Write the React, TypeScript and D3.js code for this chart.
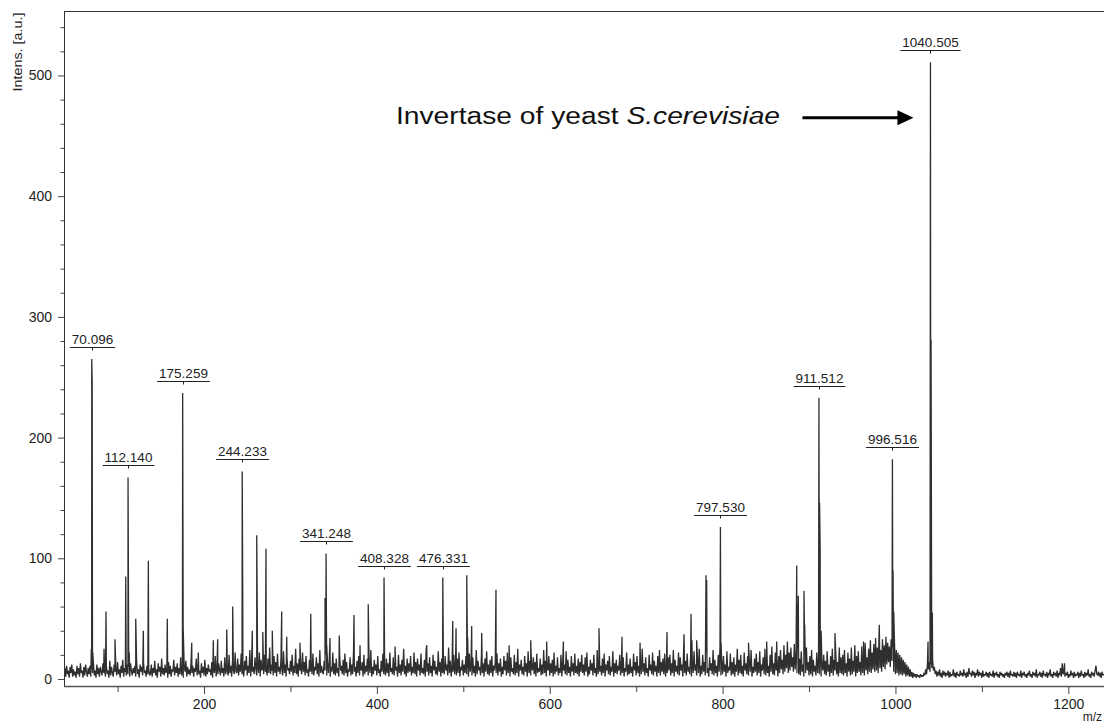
import React, { useRef, useEffect } from 'react';
import * as d3 from 'd3';

// baseline noise, one value per m/z unit, chunks of 100 starting at the m/z in the name
const noise38 = [3,9,2,11,4,7,1,10,5,12,2,8,3,6,1,11,4,9,2,13,5,7,1,10,3,12,6,2,9,4,11,2,8,5,14,3,7,1,12,4,9,2,10,6,3,13,5,8,2,11,4,7,1,15,3,10,5,2,12,6,9,3,14,4,8,1,11,5,16,2,9,6,3,12,4,10,2,13,7,3,9,5,11,2,15,4,8,1,12,6,10,3,14,5,7,2,11,4,9,3];
const noise138 = [4,12,2,9,5,15,3,8,1,13,6,10,2,17,4,9,3,12,5,7,1,14,4,11,2,8,6,16,3,10,5,13,2,9,4,18,3,7,1,12,6,15,2,10,4,8,3,14,5,11,2,9,6,17,3,12,4,7,1,13,5,10,3,16,2,9,4,12,6,8,3,14,1,11,5,19,2,10,4,13,7,3,15,5,9,2,18,4,12,6,3,20,5,11,2,16,7,4,22,6];
const noise238 = [5,17,3,12,6,21,4,9,2,15,7,19,3,11,5,24,2,14,6,10,4,18,8,3,13,5,22,2,16,7,11,4,20,6,9,3,17,5,26,4,12,7,3,19,5,14,2,21,6,10,4,16,8,3,23,5,12,2,18,7,9,4,15,6,20,3,11,5,25,4,13,2,17,7,10,4,22,6,14,3,19,5,8,2,16,6,12,4,21,3,10,7,18,4,13,2,24,5,11,6];
const noise338 = [4,15,7,20,3,12,5,18,2,10,6,22,4,13,3,17,5,9,2,19,7,11,4,16,3,21,5,14,2,8,6,18,3,12,4,23,6,10,2,15,5,19,3,9,7,14,2,20,4,11,6,17,3,13,5,24,2,10,4,16,7,12,3,19,5,8,2,15,6,21,4,11,3,17,5,13,2,22,6,9,4,18,3,14,7,10,2,20,5,12,3,16,6,25,4,11,2,17,5,13];
const noise438 = [6,19,3,10,5,22,4,14,2,17,7,12,3,21,5,9,4,16,2,24,6,13,3,18,5,11,2,20,7,15,4,10,3,23,6,14,2,17,5,9,4,19,7,12,3,26,5,15,2,11,6,20,4,13,3,17,5,22,2,10,7,16,3,12,5,19,4,9,2,21,6,14,3,18,5,11,2,24,4,15,7,10,3,20,5,13,2,17,6,23,4,12,3,16,5,19,2,11,7,14];
const noise538 = [5,21,3,13,6,17,2,10,4,19,7,15,3,22,5,11,2,18,6,9,4,20,3,14,5,25,2,12,7,16,4,10,3,19,6,13,2,23,5,15,3,11,7,18,4,14,2,21,5,9,6,17,3,12,4,24,5,15,2,10,7,19,3,13,5,16,2,22,4,11,6,18,3,9,5,20,2,14,7,12,4,23,3,16,5,10,2,19,6,13,3,21,5,11,4,17,2,14,6,20];
const noise638 = [5,12,3,18,6,22,2,10,4,16,7,13,3,20,5,9,2,24,4,14,6,11,3,17,5,21,2,12,7,15,4,19,3,10,6,23,2,13,5,16,4,11,7,20,3,14,5,18,2,9,6,22,3,12,4,17,5,10,2,21,7,14,3,19,5,11,2,16,4,25,6,13,3,18,5,9,2,20,7,12,4,22,3,15,6,11,2,19,5,24,3,14,6,17,4,21,2,12,5,18];
const noise738 = [7,20,3,13,5,24,2,16,6,11,4,22,3,18,7,12,2,26,5,15,3,21,6,10,4,19,2,14,5,23,7,12,3,17,5,25,2,11,4,20,6,14,3,22,5,9,2,18,7,13,4,24,3,16,5,11,2,20,6,27,3,15,4,19,6,12,2,23,5,10,7,21,3,14,4,18,2,12,6,25,3,16,5,20,4,11,2,22,7,13,4,19,3,15,6,24,2,10,5,17];
const noise838 = [6,21,3,14,5,23,2,12,7,18,4,25,3,16,5,11,2,20,6,27,4,13,3,22,7,15,2,19,5,24,8,16,4,28,6,20,9,31,5,22,7,26,10,18,6,29,8,21,5,25,4,17,3,23,6,12,2,21,5,26,7,14,3,19,4,24,2,16,6,11,3,22,5,18,4,27,2,13,7,20,4,15,3,23,6,12,2,19,5,25,3,16,7,21,4,14,2,26,5,18];
const noise938 = [4,20,3,24,5,13,2,22,6,17,3,26,4,15,6,28,2,19,5,23,6,14,3,27,5,21,3,30,7,18,4,25,6,32,5,22,8,29,6,34,7,26,5,36,9,24,6,33,10,28,8,35,12,30,14,27,10,33,15,26,6,28,4,24,5,22,3,20,4,18,3,16,4,14,2,12,3,10,2,8,2,6,1,5,2,4,1,4,2,3,1,4,2,3,2,5,3,8,4,12];
const noise1038 = [8,14,6,12,9,16,7,10,4,7,2,6,3,8,2,5,1,7,3,6,2,5,3,7,1,6,2,4,3,8,2,5,1,6,3,4,2,7,3,5,2,8,3,5,1,6,2,9,4,5,2,7,3,6,1,5,3,8,2,6,3,5,1,7,2,4,3,6,2,5,1,6,3,4,2,7,1,5,3,6,2,4,1,6,3,5,2,4,1,5,3,6,2,5,1,7,3,4,2,6];
const noise1138 = [2,5,1,6,3,4,2,7,1,5,3,6,2,4,1,5,3,7,2,4,1,6,3,5,2,8,1,4,3,6,2,5,1,7,3,4,2,6,1,5,3,8,2,4,1,6,3,5,2,7,1,5,3,9,2,13,4,6,2,5,3,6,1,4,2,7,3,5,1,6,2,4,3,6,1,5,2,7,3,4,1,6,2,5,3,8,2,4,1,6,3,5,2,7,11,4,3,6,2,5,1,6,3,4];

const noiseChunks: [number, number[]][] = [
  [38, noise38], [138, noise138], [238, noise238], [338, noise338], [438, noise438], [538, noise538],
  [638, noise638], [738, noise738], [838, noise838], [938, noise938], [1038, noise1038], [1138, noise1138],
];

// main peaks: [m/z, intensity]
const peaks: [number, number][] = [
  [69.6, 25], [70.1, 265], [70.6, 247], [71.3, 22],
  [86.6, 56], [97, 33],
  [109.4, 85], [112.1, 167], [112.8, 30], [113.5, 22],
  [121, 50], [129.8, 40], [135.6, 98], [157.5, 50],
  [175.3, 237], [176, 40],
  [226.3, 41], [233.2, 60],
  [244.2, 172], [244.8, 71],
  [261, 119], [271.7, 108], [289.9, 56], [295.7, 35], [323.5, 54],
  [340, 67], [341.2, 104], [342, 28],
  [356.5, 36], [373.5, 53], [390, 62], [408.3, 84], [476.3, 84],
  [487.8, 48], [491.6, 42], [504, 86], [505, 35], [521.3, 38], [537.8, 74],
  [657, 42], [683.6, 35], [735.7, 39], [755.4, 37], [763.5, 54], [764.5, 32],
  [780.8, 86], [781.6, 82], [797.5, 126], [798.2, 30],
  [885.8, 94], [886.6, 62], [887.6, 69], [894.2, 73], [895, 45],
  [911.5, 233], [912.2, 146], [912.9, 107], [914, 40],
  [981.3, 45], [996.5, 182], [997.2, 90], [998, 56],
  [1037.7, 31], [1040.5, 511], [1041.2, 281], [1042.7, 55],
  [1195.6, 13],
];

// small spikes sticking out of the noise band
const minorPeaks: [number, number][] = [
  [84.3, 25], [185.8, 30], [193.4, 22], [210.8, 32], [215.8, 33], [255.9, 40], [268, 39], [279, 40],
  [311, 30], [345.8, 34], [380.5, 28], [421, 27], [457.7, 28], [509.7, 44], [553, 28], [578, 32],
  [596.5, 31], [615.8, 31], [704.5, 30], [770, 32], [830, 30], [851, 31], [862.6, 31], [930, 38], [963, 31],
];

const peakLabels = ['70.096', '112.140', '175.259', '244.233', '341.248', '408.328', '476.331', '797.530', '911.512', '996.516', '1040.505'];

const xTicks = [200, 400, 600, 800, 1000, 1200];
const xMinorTicks = [100, 300, 500, 700, 900, 1100];
const yTicks = [0, 100, 200, 300, 400, 500];
const yMinorTicks = [20, 40, 60, 80, 120, 140, 160, 180, 220, 240, 260, 280, 320, 340, 360, 380, 420, 440, 460, 480, 520, 540];

const FONT = '"Liberation Sans", Arial, sans-serif';

export default function App() {
  const ref = useRef<SVGSVGElement>(null);

  useEffect(() => {
    const svg = d3.select(ref.current);
    svg.selectAll('*').remove();

    const left = 64, right = 1104, top = 11, bottom = 686;
    const x = d3.scaleLinear().domain([38, 1241.3]).range([left, right]);
    const y = d3.scaleLinear().domain([-5.8, 553.4]).range([bottom, top]);

    // merge noise + peaks into one trace
    const points: [number, number][] = [];
    noiseChunks.forEach(([start, vals]) => vals.forEach((v, i) => points.push([start + i, v])));
    peaks.forEach(p => points.push(p));
    minorPeaks.forEach(p => points.push(p));
    points.sort((a, b) => a[0] - b[0]);

    svg.append('defs').append('clipPath').attr('id', 'plotClip')
      .append('rect').attr('x', left).attr('y', top).attr('width', right - left).attr('height', bottom - top);

    svg.append('path')
      .datum(points)
      .attr('fill', 'none')
      .attr('stroke', '#2f2f2f')
      .attr('stroke-width', 1.3)
      .attr('stroke-linejoin', 'bevel')
      .attr('clip-path', 'url(#plotClip)')
      .attr('d', d3.line<[number, number]>().x(d => x(d[0])).y(d => y(d[1])));

    // frame
    svg.append('line').attr('x1', left + 0.5).attr('x2', left + 0.5).attr('y1', top).attr('y2', bottom)
      .attr('stroke', '#333').attr('stroke-width', 1);
    svg.append('line').attr('x1', left).attr('x2', right).attr('y1', top + 0.5).attr('y2', top + 0.5)
      .attr('stroke', '#333').attr('stroke-width', 1);
    svg.append('line').attr('x1', left).attr('x2', right).attr('y1', bottom + 0.5).attr('y2', bottom + 0.5)
      .attr('stroke', '#555').attr('stroke-width', 1.5);

    // x axis
    const xAxis = svg.append('g').attr('transform', `translate(0,${bottom + 1})`)
      .call(d3.axisBottom(x).tickValues(xTicks).tickSize(7).tickSizeOuter(0).tickPadding(5).tickFormat(d3.format('d')));
    xAxis.select('.domain').remove();
    xAxis.selectAll('text').style('font-family', FONT).style('font-size', '14px').attr('fill', '#222');
    xAxis.selectAll('line').attr('stroke', '#444');
    const xMinor = svg.append('g').attr('transform', `translate(0,${bottom + 1})`)
      .call(d3.axisBottom(x).tickValues(xMinorTicks).tickSize(5).tickSizeOuter(0).tickFormat(() => ''));
    xMinor.select('.domain').remove();
    xMinor.selectAll('line').attr('stroke', '#444');

    // y axis
    const yAxis = svg.append('g').attr('transform', `translate(${left},0)`)
      .call(d3.axisLeft(y).tickValues(yTicks).tickSize(6).tickSizeOuter(0).tickPadding(6).tickFormat(d3.format('d')));
    yAxis.select('.domain').remove();
    yAxis.selectAll('text').style('font-family', FONT).style('font-size', '14px').attr('fill', '#222');
    yAxis.selectAll('line').attr('stroke', '#444');
    const yMinor = svg.append('g').attr('transform', `translate(${left},0)`)
      .call(d3.axisLeft(y).tickValues(yMinorTicks).tickSize(3.5).tickSizeOuter(0).tickFormat(() => ''));
    yMinor.select('.domain').remove();
    yMinor.selectAll('line').attr('stroke', '#444');

    svg.append('text')
      .attr('transform', 'translate(21.5,52) rotate(-90)')
      .attr('text-anchor', 'middle')
      .attr('textLength', 79)
      .attr('lengthAdjust', 'spacingAndGlyphs')
      .style('font-family', FONT).style('font-size', '13px').attr('fill', '#222')
      .text('Intens. [a.u.]');

    svg.append('text')
      .attr('x', 1102).attr('y', 721)
      .attr('text-anchor', 'end')
      .style('font-family', FONT).style('font-size', '12px').attr('fill', '#222')
      .text('m/z');

    // peak labels
    peakLabels.forEach(lbl => {
      const mz = +lbl;
      const h = d3.max(peaks.filter(p => Math.abs(p[0] - mz) < 1), p => p[1]) ?? 0;
      const g = svg.append('g').attr('transform', `translate(${Math.round(x(mz)) + 0.5},${Math.round(y(h) - 12) + 0.5})`);
      const t = g.append('text')
        .attr('x', 0).attr('y', -3.5)
        .attr('text-anchor', 'middle')
        .style('font-family', FONT).style('font-size', '13.5px').attr('fill', '#222')
        .text(lbl);
      const w = (t.node() as SVGTextElement).getComputedTextLength() + 4;
      g.append('line').attr('x1', -w / 2).attr('x2', w / 2).attr('y1', 0).attr('y2', 0).attr('stroke', '#222').attr('stroke-width', 1);
      g.append('line').attr('x1', 0).attr('x2', 0).attr('y1', 0).attr('y2', 3).attr('stroke', '#222').attr('stroke-width', 1);
    });

    // annotation
    const ann = svg.append('text')
      .attr('x', 396).attr('y', 123.5)
      .attr('textLength', 384)
      .attr('lengthAdjust', 'spacingAndGlyphs')
      .style('font-family', FONT).style('font-size', '23px').attr('fill', '#111');
    ann.append('tspan').text('Invertase of yeast ');
    ann.append('tspan').style('font-style', 'italic').text('S.cerevisiae');

    const tipX = x(1040.5) - 17;
    const tipY = y(465);
    svg.append('line').attr('x1', tipX - 111).attr('x2', tipX - 14).attr('y1', tipY).attr('y2', tipY)
      .attr('stroke', '#000').attr('stroke-width', 3);
    svg.append('path')
      .attr('d', `M${tipX},${tipY} L${tipX - 16},${tipY - 7.5} L${tipX - 16},${tipY + 7.5} Z`)
      .attr('fill', '#000');
  }, []);

  return (
    <svg ref={ref} width={1104} height={724}
      style={{ position: 'absolute', left: 0, top: 0, background: '#fff', display: 'block' }} />
  );
}
